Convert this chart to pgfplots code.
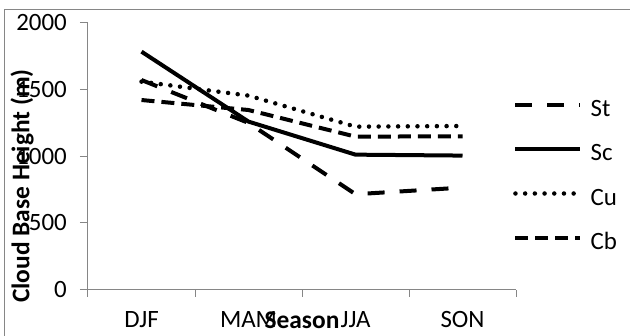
\documentclass[border=0pt]{standalone}
\usepackage{fontspec}
\setmainfont{Carlito}
\usepackage{pgfplots}
\pgfplotsset{compat=1.18}
\definecolor{axisgray}{RGB}{134,134,134}
\begin{document}
\begin{tikzpicture}[x=1bp,y=1bp]
\useasboundingbox (-88,-45.5) rectangle (542,289.5);
\draw[axisgray, line width=1bp] (-83,-60) -- (-83,280.5) -- (560,280.5);
\begin{axis}[
  at={(0,0)}, anchor=south west,
  scale only axis, width=428bp, height=266.5bp,
  xmin=-0.5, xmax=3.5, ymin=0, ymax=2000,
  axis lines*=left,
  axis line style={draw=axisgray, line width=1bp},
  xtick={0,1,2,3}, xticklabels={DJF,MAM,JJA,SON},
  minor xtick={-0.5,0.5,1.5,2.5,3.5},
  ytick={0,500,1000,1500,2000},
  tick align=outside,
  major tick length=8bp, minor tick length=7bp,
  major x tick style={draw=none},
  minor x tick style={draw=axisgray, line width=1bp},
  y tick style={draw=axisgray, line width=1bp},
  tick label style={font=\fontsize{25}{30}\selectfont, text=black},
  /pgf/number format/assume math mode=true,
  /pgf/number format/set thousands separator={},
  yticklabel style={inner sep=0pt, xshift=-13bp},
  xticklabel style={inner sep=0pt, anchor=north, yshift=-14bp},
  ylabel={\bfseries Cloud Base Height (m)},
  ylabel style={at={(axis description cs:-0.154,0.388)}, anchor=center, font=\fontsize{25.5}{30}\selectfont},
  xlabel={\bfseries Season},
  xlabel style={at={(axis description cs:0.5,-0.115)}, anchor=center, font=\fontsize{25.5}{30}\selectfont},
  clip=false,
  legend cell align=left,
  legend image code/.code={\draw[#1] (0bp,7bp) -- (65bp,7bp);},
  legend style={at={(axis description cs:0.993,0.42)}, anchor=west, draw=none, fill=none,
    font=\fontsize{25}{30}\selectfont, inner sep=0pt, row sep=27.6bp,
    nodes={inner sep=0pt, text height=12bp, text depth=3bp},
    /tikz/every odd column/.append style={column sep=8bp}},
  every axis plot/.append style={black, line join=round},
]
\addplot[line width=4bp, dash pattern=on 17bp off 15bp] coordinates {(0,1572) (1,1250) (2,715) (3,765)};
\addlegendentry{St}
\addplot[line width=4bp] coordinates {(0,1785) (1,1260) (2,1012) (3,1005)};
\addlegendentry{Sc}
\addplot[line width=4.5bp, line cap=round, dash pattern=on 0bp off 9.7bp] coordinates {(0,1560) (1,1455) (2,1222) (3,1227)};
\addlegendentry{Cu}
\addplot[line width=4bp, dash pattern=on 13bp off 7bp] coordinates {(0,1422) (1,1347) (2,1147) (3,1150)};
\addlegendentry{Cb}
\end{axis}
\end{tikzpicture}
\end{document}
